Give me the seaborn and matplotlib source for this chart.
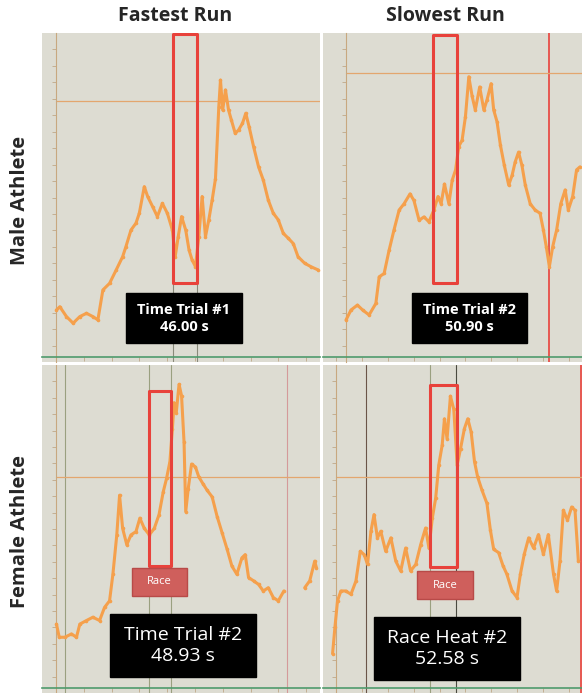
import numpy as np
import pandas as pd
import matplotlib.pyplot as plt
import seaborn as sns
from matplotlib.patches import Rectangle

# trace values, in percent of the panel (time, signal)
tl_t = [5.2, 6.4, 8.8, 11.2, 13.6, 16.0, 18.3, 20.1, 21.9, 24.3, 26.7, 29.0, 30.2, 32.0, 33.8,
        35.0, 36.8, 38.0, 39.8, 41.5, 43.3, 45.1, 46.9, 47.9, 49.0, 50.2, 51.7, 52.9, 54.0, 55.2,
        56.4, 57.6, 58.8, 60.0, 61.2, 62.4, 63.6, 64.2, 65.0, 66.0, 67.1, 68.1, 69.5, 70.7, 72.1,
        73.3, 74.5, 76.1, 77.9, 79.6, 81.4, 83.2, 85.0, 86.8, 88.6, 90.4, 92.1, 94.5, 96.9, 99.3]
tl_v = [15.8, 16.8, 13.8, 11.8, 13.8, 14.8, 13.8, 12.8, 21.9, 23.9, 28.0, 32.0, 35.1, 40.1, 42.2,
        45.2, 53.3, 50.3, 47.2, 44.2, 48.2, 45.2, 40.1, 32.0, 38.1, 44.2, 40.1, 34.0, 31.0, 29.0,
        38.1, 50.3, 38.1, 43.2, 49.2, 55.7, 77.6, 85.7, 76.6, 82.7, 76.6, 73.6, 69.5, 70.5, 72.5,
        75.6, 71.5, 65.5, 59.3, 55.3, 49.2, 45.2, 43.2, 39.1, 37.6, 36.0, 32.0, 30.0, 28.9, 28.0]

tr_t = [8.9, 10.8, 13.3, 15.3, 17.8, 20.4, 21.7, 23.6, 25.5, 27.4, 29.4, 31.3, 33.6, 35.1, 37.1,
        39.0, 40.9, 42.8, 44.4, 45.6, 46.9, 48.6, 49.9, 51.2, 52.4, 53.7, 55.0, 56.3, 57.6, 58.8,
        60.5, 62.1, 63.3, 64.9, 65.9, 67.2, 68.5, 70.0, 71.7, 73.0, 74.2, 75.5, 76.8, 78.1, 80.0,
        81.9, 83.8, 85.1, 86.2, 87.4, 88.7, 90.2, 91.8, 93.5, 94.7, 96.4, 97.9, 99.2]
tr_v = [12.8, 15.8, 17.3, 15.8, 14.3, 17.8, 25.9, 26.9, 33.9, 40.1, 46.2, 48.1, 51.1, 49.1, 43.1,
        44.1, 42.6, 46.2, 50.3, 48.1, 54.1, 48.1, 55.3, 58.4, 65.5, 67.4, 74.6, 86.7, 80.7, 76.6,
        83.6, 76.6, 79.6, 84.6, 76.6, 73.0, 65.9, 59.8, 53.8, 56.7, 60.8, 63.8, 59.8, 53.8, 48.1,
        46.2, 45.2, 40.1, 35.1, 29.0, 35.1, 40.1, 48.1, 52.3, 46.2, 50.3, 58.4, 59.3]

bl_t = [5.2, 6.2, 8.2, 10.6, 12.4, 13.6, 16.0, 18.3, 20.7, 22.5, 24.3, 25.5, 26.9, 27.9, 29.0,
        30.5, 32.0, 33.8, 35.2, 36.8, 38.6, 40.4, 42.1, 43.6, 44.8, 46.0, 46.9, 47.5, 48.3, 49.3,
        50.2, 51.1, 51.7, 52.6, 53.8, 55.2, 56.4, 57.9, 59.4, 61.2, 63.0, 64.8, 66.6, 68.3, 70.1,
        71.9, 73.1, 74.3, 76.1, 77.9, 79.6, 81.4, 83.2, 85.0, 87.0]
bl_v = [21.0, 17.0, 17.0, 18.0, 17.0, 21.0, 22.1, 23.1, 22.1, 26.1, 28.1, 36.2, 48.2, 60.3, 50.2,
        45.2, 48.2, 49.2, 53.3, 50.2, 48.2, 50.2, 54.4, 61.3, 65.4, 70.5, 80.5, 88.5, 85.5, 94.1,
        90.6, 76.4, 55.3, 62.3, 69.8, 68.9, 65.9, 63.8, 61.8, 59.8, 53.8, 48.8, 43.8, 38.7, 36.2,
        41.2, 42.2, 35.2, 34.2, 33.1, 31.1, 32.1, 29.1, 28.1, 31.1]
bl_tail_t = [94.5, 96.3, 98.1, 98.7]
bl_tail_v = [32.1, 34.2, 40.2, 38.2]

br_t = [3.7, 4.6, 5.6, 6.9, 8.8, 10.8, 12.7, 14.4, 15.9, 17.2, 18.5, 19.7, 21.0, 22.3, 24.2,
        26.2, 28.1, 30.0, 31.9, 33.8, 35.8, 37.7, 39.6, 40.9, 42.2, 43.5, 44.7, 46.0, 46.9, 47.9,
        49.2, 50.5, 51.8, 53.1, 54.6, 55.9, 57.2, 58.5, 59.7, 61.4, 63.3, 64.6, 65.9, 67.8, 69.5,
        71.0, 73.0, 74.9, 76.2, 77.7, 79.4, 81.3, 83.2, 85.1, 87.0, 89.0, 90.2, 91.5, 92.8, 94.4,
        96.0, 97.3, 98.6]
br_v = [12.0, 20.0, 28.1, 31.1, 31.1, 30.1, 34.1, 43.2, 42.2, 39.2, 49.3, 54.4, 47.3, 49.3, 43.2,
        47.3, 40.2, 37.2, 44.2, 37.2, 39.2, 45.2, 50.3, 44.2, 53.3, 59.4, 69.5, 75.5, 83.6, 77.5,
        90.5, 86.5, 69.5, 74.5, 80.6, 83.6, 79.6, 70.5, 65.9, 61.8, 57.8, 49.8, 43.8, 42.8, 38.8,
        36.2, 31.1, 29.1, 36.2, 42.3, 47.3, 44.2, 48.3, 42.3, 48.3, 36.2, 31.1, 40.2, 55.7, 52.7,
        56.7, 55.7, 40.2]

col_titles = ["Fastest Run", "Slowest Run"]
row_titles = ["Male Athlete", "Female Athlete"]
labels = ["Time Trial #1\n46.00 s", "Time Trial #2\n50.90 s",
          "Time Trial #2\n48.93 s", "Race Heat #2\n52.58 s"]

sns.set_theme(style="white")
plt.rcParams['font.family'] = ['Open Sans', 'DejaVu Sans']

ORANGE = "#f5a04c"
RED = "#e8423b"
BG = "#dddcd2"

fig = plt.figure(figsize=(5.82, 6.93), dpi=100)
positions = [
    [42 / 582, 1 - 362 / 693, 278 / 582, 329 / 693],
    [323 / 582, 1 - 362 / 693, 259 / 582, 329 / 693],
    [42 / 582, 0.0, 278 / 582, 328 / 693],
    [323 / 582, 0.0, 259 / 582, 328 / 693],
]
axes = [fig.add_axes(p) for p in positions]

# per panel: trace, left axis x, red box (x0, x1, y0, y1), level line, label box, race box, extra lines
panels = [
    dict(t=tl_t, v=tl_v, axis_x=5.2, box=(47.3, 55.8, 23.9, 99.6), hline=79.4,
         lab=(30.2, 71.9, 5.7, 20.9), big=False, race=None, vlines=[(47.3, "#8a8a7a"), (55.8, "#8a8a7a")]),
    dict(t=tr_t, v=tr_v, axis_x=8.8, box=(42.4, 51.8, 23.9, 99.4), hline=87.9,
         lab=(34.2, 78.7, 5.7, 20.9), big=False, race=None, vlines=[(87.1, RED)]),
    dict(t=bl_t, v=bl_v, axis_x=5.2, box=(38.6, 46.3, 38.7, 92.0), hline=65.9,
         lab=(24.5, 76.9, 4.9, 24.1), big=True, race=(32.4, 52.0, 29.6, 38.2),
         vlines=[(8.3, "#9aa080"), (38.6, "#9aa080"), (46.3, "#9aa080"), (88.0, "#d49a9a")]),
    dict(t=br_t, v=br_v, axis_x=5.0, box=(41.5, 51.8, 38.4, 93.8), hline=65.9,
         lab=(19.7, 76.2, 3.9, 23.1), big=True, race=(36.4, 57.9, 28.6, 37.2),
         vlines=[(16.5, "#6a5548"), (41.5, "#9aa080"), (51.2, "#4a4a40"), (99.5, RED)]),
]

for i, (ax, p) in enumerate(zip(axes, panels)):
    ax.set_facecolor(BG)
    ax.set_xlim(0, 100)
    ax.set_ylim(0, 100)
    for s in ["top", "right"]:
        ax.spines[s].set_visible(False)
    ax.spines["left"].set_position(("data", p["axis_x"]))
    ax.spines["left"].set_color("#c8a880")
    ax.spines["left"].set_linewidth(0.8)
    ax.spines["bottom"].set_position(("data", 1.6))
    ax.spines["bottom"].set_color("#4f9a6c")
    ax.spines["bottom"].set_linewidth(1.2)
    ax.set_xticks(np.arange(5, 100, 10))
    ax.set_yticks(np.arange(5, 100, 5))
    ax.tick_params(axis="both", direction="out", length=3, width=0.6,
                   colors="#c0a888", labelleft=False, labelbottom=False,
                   left=True, bottom=True)
    ax.set_xlabel("")
    ax.set_ylabel("")

    for x, c in p["vlines"]:
        ax.axvline(x, color=c, lw=1.2 if c == RED else 0.8, zorder=1)
    ax.axhline(p["hline"], xmin=p["axis_x"] / 100, color="#e3a66e", lw=0.9, zorder=1)

    df = pd.DataFrame({"t": p["t"], "v": p["v"]})
    sns.lineplot(data=df, x="t", y="v", ax=ax, color=ORANGE, lw=2.2,
                 marker="o", markersize=2.6, markeredgewidth=0, zorder=3)

    x0, x1, y0, y1 = p["box"]
    ax.add_patch(Rectangle((x0, y0), x1 - x0, y1 - y0, fill=False,
                           edgecolor=RED, lw=2.2, joinstyle="round", zorder=4))

    if p["race"] is not None:
        rx0, rx1, ry0, ry1 = p["race"]
        ax.add_patch(Rectangle((rx0, ry0), rx1 - rx0, ry1 - ry0, facecolor="#cf5f5c",
                               edgecolor="#b84a48", lw=1, zorder=5))
        ax.text((rx0 + rx1) / 2, (ry0 + ry1) / 2, "Race", color="white", fontsize=8,
                ha="center", va="center", zorder=6)

    lx0, lx1, ly0, ly1 = p["lab"]
    ax.add_patch(Rectangle((lx0, ly0), lx1 - lx0, ly1 - ly0, facecolor="black",
                           edgecolor="black", zorder=5))
    ax.text((lx0 + lx1) / 2, (ly0 + ly1) / 2, labels[i], color="white",
            fontsize=14 if p["big"] else 10.5,
            fontweight="normal" if p["big"] else "bold",
            ha="center", va="center", linespacing=1.25, zorder=6)

# tail of the female fastest trace, right of the second axis
sns.lineplot(x=bl_tail_t, y=bl_tail_v, ax=axes[2], color=ORANGE, lw=2.2,
             marker="o", markersize=2.6, markeredgewidth=0, zorder=3)

fig.text(175 / 582, 1 - 16 / 693, col_titles[0], fontsize=14, fontweight="bold",
         ha="center", va="center")
fig.text(445 / 582, 1 - 16 / 693, col_titles[1], fontsize=14, fontweight="bold",
         ha="center", va="center")
fig.text(20 / 582, 1 - 200 / 693, row_titles[0], fontsize=14.5, fontweight="bold",
         rotation=90, ha="center", va="center")
fig.text(20 / 582, 1 - 532 / 693, row_titles[1], fontsize=14.5, fontweight="bold",
         rotation=90, ha="center", va="center")

fig.savefig("out.png", dpi=100, facecolor="white")
